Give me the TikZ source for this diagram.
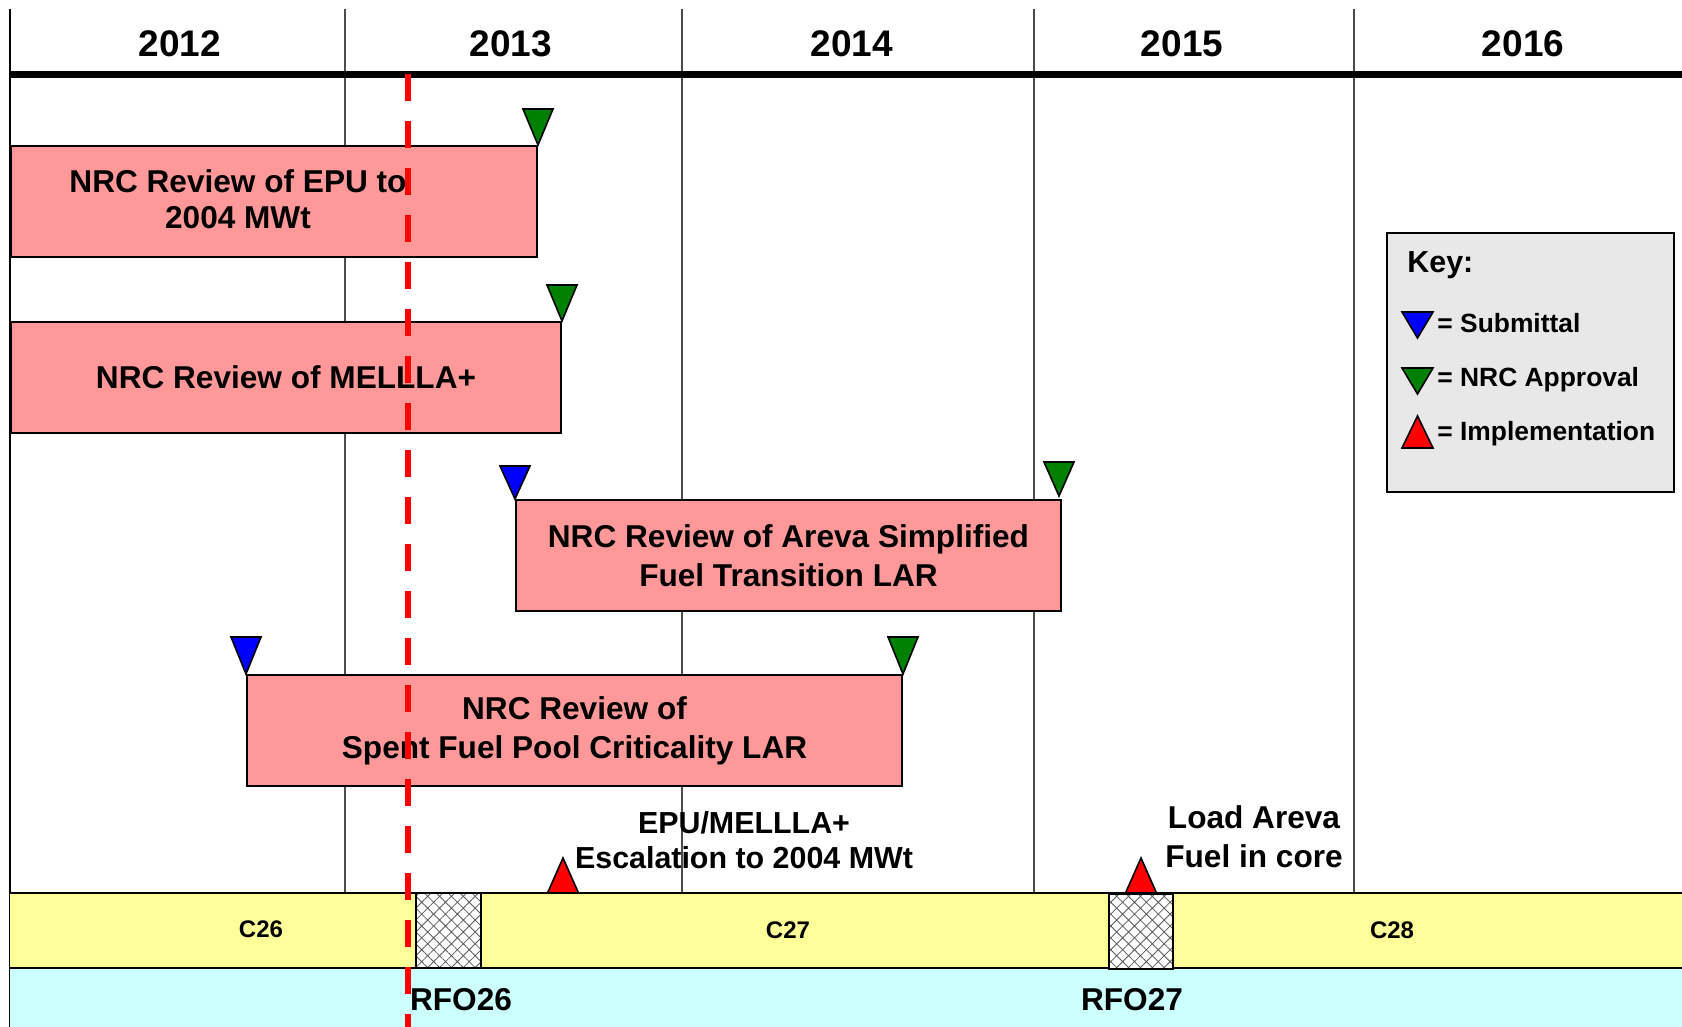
\documentclass[tikz,border=0pt]{standalone}
\usepackage{fontspec}
\setmainfont{Liberation Sans}
\usetikzlibrary{patterns.meta}
\definecolor{reviewpink}{HTML}{FF9999}
\definecolor{cycleyellow}{HTML}{FFFF99}
\definecolor{outagecyan}{HTML}{CCFFFF}
\definecolor{keygray}{HTML}{E8E8E8}
\definecolor{approvegreen}{HTML}{008000}

\begin{document}
\begin{tikzpicture}[
    x=0.5pt, y=-0.5pt,
    year/.style={font=\bfseries\fontsize{18.5}{22}\selectfont},
    gridline/.style={draw=black!70, line width=0.7pt},
    review/.style={draw, line width=1pt, fill=reviewpink, anchor=north west,
      minimum width=#1, minimum height=55.5pt, inner sep=0pt, align=center,
      font=\bfseries\fontsize{15.8}{19.5}\selectfont},
    boxtext/.style={align=center, font=\bfseries\fontsize{15.8}{19.5}\selectfont},
    submit/.style={draw, line width=0.8pt, fill=blue},
    approve/.style={draw, line width=0.8pt, fill=approvegreen},
    implement/.style={draw, line width=0.8pt, fill=red},
    outage/.style={draw, line width=1pt, anchor=north west, minimum height=37.5pt,
      minimum width=#1, inner sep=0pt, preaction={fill=white},
      pattern={Hatch[angle=45, distance=4.2pt, line width=0.4pt]}, pattern color=black!65},
    cyclelabel/.style={font=\bfseries\fontsize{12}{14}\selectfont},
    keytext/.style={anchor=west, inner sep=0pt, font=\bfseries\fontsize{13.2}{15}\selectfont},
    today/.style={draw=red, line width=3pt, dash pattern=on 13.5pt off 10pt}
]
  \useasboundingbox (0,0) rectangle (1682,1027);

  % years and grid
  \draw[line width=0.9pt] (10,9) -- (10,1027);
  \foreach \gx in {345,682,1034,1354}
    \draw[gridline] (\gx,9) -- (\gx,893);
  \draw[line width=3.5pt] (10,74.5) -- (1682,74.5);

  \node[year] (y2012) at (180,44) {2012};
  \node[year] (y2013) at (511,44) {2013};
  \node[year] (y2014) at (852,44) {2014};
  \node[year] (y2015) at (1182,44) {2015};
  \node[year] (y2016) at (1523,44) {2016};

  % review bars
  \node[review=263pt] (epu) at (10,145) {};
  \node[boxtext, font=\bfseries\fontsize{15.8}{18}\selectfont] (epu-text) at ([xshift=-18pt,yshift=1pt]epu.center) {NRC Review of EPU to\\2004 MWt};
  \node[review=275pt] (mellla) at (10,321) {NRC Review of MELLLA+};
  \node[review=272.5pt] (areva) at (515,499) {NRC Review of Areva Simplified\\Fuel Transition LAR};
  \node[review=327.5pt] (sfp) at (246,674) {NRC Review of\\Spent Fuel Pool Criticality LAR};

  % submittals and approvals
  \draw[approve] (epu.north east) -- ++(-15,-36) -- ++(30,0) -- cycle;
  \draw[approve] (mellla.north east) -- ++(-15,-36) -- ++(30,0) -- cycle;
  \draw[submit] (areva.north west) -- ++(-15,-33) -- ++(30,0) -- cycle;
  \draw[approve] ([shift={(-3,-3)}]areva.north east) -- ++(-15,-34) -- ++(30,0) -- cycle;
  \draw[submit] (sfp.north west) -- ++(-15,-37) -- ++(30,0) -- cycle;
  \draw[approve] (sfp.north east) -- ++(-15,-37) -- ++(30,0) -- cycle;

  % operating cycles
  \fill[cycleyellow] (10,893) rectangle (1682,968);
  \fill[outagecyan] (10,968) rectangle (1682,1027);
  \draw[line width=1pt] (10,893) -- (1682,893);
  \draw[line width=1pt] (10,968) -- (1682,968);
  \node[outage=32.5pt] (rfo26box) at (416,893) {};
  \node[outage=32pt] (rfo27box) at (1108,893) {};
  \node[cyclelabel] (c26) at (261,929) {C26};
  \node[cyclelabel] (c27) at (788,930) {C27};
  \node[cyclelabel] (c28) at (1392,930) {C28};
  \node[boxtext] (rfo26) at (461,1000) {RFO26};
  \node[boxtext] (rfo27) at (1132,1000) {RFO27};

  % implementation
  \coordinate (escalate) at (563,893);
  \draw[implement] (escalate) ++(-15.5,0) -- ++(31,0) -- ++(-15.5,-35) -- cycle;
  \draw[implement] (rfo27box.north) ++(-15.5,0) -- ++(31,0) -- ++(-15.5,-35) -- cycle;
  \node[boxtext, font=\bfseries\fontsize{15.2}{17.5}\selectfont] (escalate-text) at (744,840) {EPU/MELLLA+\\Escalation to 2004 MWt};
  \node[boxtext] (load-text) at (1254,837) {Load Areva\\Fuel in core};

  % key
  \node[draw, line width=1pt, fill=keygray, anchor=north west, minimum width=143.5pt,
    minimum height=129.5pt, inner sep=0pt] (key) at (1386,232) {};
  \node[keytext, font=\bfseries\fontsize{15.2}{17}\selectfont] (key-title) at (1407,265) {Key:};
  \node[keytext] (key-sub) at (1437,323) {= Submittal};
  \node[keytext] (key-app) at (1437,380) {= NRC Approval};
  \node[keytext] (key-imp) at (1437,434) {= Implementation};
  \draw[submit] ([shift={(-35,-11)}]key-sub.west) -- ++(31,0) -- ++(-15.5,26) -- cycle;
  \draw[approve] ([shift={(-35,-12)}]key-app.west) -- ++(31,0) -- ++(-15.5,26) -- cycle;
  \draw[implement] ([shift={(-35,14)}]key-imp.west) -- ++(31,0) -- ++(-15.5,-32) -- cycle;

  % current date
  \draw[today] (407.6,74) -- (407.6,1027);

\end{tikzpicture}
\end{document}
